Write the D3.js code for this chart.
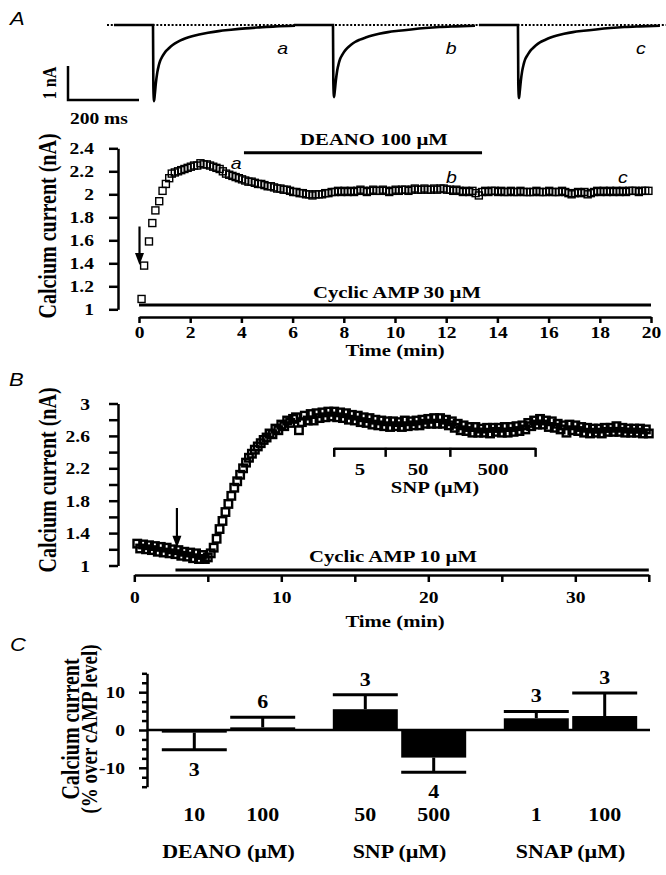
<!DOCTYPE html>
<html><head><meta charset="utf-8">
<script src="https://cdn.jsdelivr.net/npm/d3@7"></script>
<style>body{margin:0;background:#fff}svg{display:block}</style>
</head><body>
<script>
// ================= DATA =================
// Panel A top: current traces (time in ms after step, current in nA)
const traceTime = [-110,0,1,3,5,8,12,16,20,26,32,40,50,62,76,92,110,130,155,185,220,260,300,345,400];
const traceA = [0,0,-1.8,-2.24,-2.05,-1.72,-1.4,-1.2,-1.06,-0.93,-0.83,-0.73,-0.63,-0.54,-0.46,-0.39,-0.33,-0.28,-0.23,-0.18,-0.14,-0.1,-0.07,-0.04,-0.02];
const traceB = [0,0,-1.7,-2.12,-1.95,-1.64,-1.33,-1.14,-1.0,-0.88,-0.78,-0.68,-0.59,-0.5,-0.43,-0.37,-0.31,-0.26,-0.21,-0.17,-0.13,-0.09,-0.06,-0.04,-0.02];
const traceC = [0,0,-1.72,-2.15,-1.97,-1.66,-1.35,-1.16,-1.02,-0.9,-0.8,-0.7,-0.6,-0.51,-0.44,-0.37,-0.31,-0.26,-0.21,-0.17,-0.13,-0.09,-0.06,-0.04,-0.02];
const traceOnsets = [0, 507, 1028];        // ms on the trace time axis
const traceLetters = ["a","b","c"];
const traceLetterT = [365, 333, 346];      // ms after each onset

// Panel A time course (min, nA)
const timeAearly = [0.1,0.2,0.39,0.52,0.64,0.79,0.92,1.05,1.18,1.28];
const valAearly  = [1.09,1.38,1.59,1.75,1.86,1.94,2.03,2.09,2.14,2.18];
const startAdense = 1.4, stepAdense = 0.125;   // sampling clock
const valAdense = [
 2.19,2.2,2.21,2.22,2.23,2.24,2.25,2.25,
 2.27,2.26,2.26,2.25,2.24,2.23,2.22,2.2,
 2.18,2.17,2.16,2.15,2.14,2.13,2.12,2.11,
 2.11,2.1,2.09,2.09,2.08,2.07,2.07,2.06,
 2.05,2.05,2.04,2.04,2.03,2.02,2.02,2.01,
 2.01,2.0,2.0,1.99,2.0,2.0,2.0,2.01,
 2.01,2.02,2.02,2.03,2.02,2.03,2.02,2.03,
 2.02,2.03,2.04,2.03,2.02,2.03,2.04,2.03,
 2.03,2.04,2.03,2.02,2.03,2.04,2.03,2.04,
 2.04,2.03,2.04,2.05,2.04,2.04,2.05,2.04,
 2.04,2.05,2.04,2.05,2.05,2.04,2.04,2.03,
 2.04,2.03,2.02,2.03,2.02,2.03,2.01,1.99,
 2.02,2.03,2.02,2.03,2.03,2.02,2.03,2.02,
 2.02,2.03,2.02,2.02,2.03,2.02,2.02,2.02,
 2.02,2.03,2.02,2.02,2.02,2.03,2.02,2.02,
 2.02,2.03,2.02,2.01,2.0,2.01,2.02,2.01,
 2.02,2.0,2.01,2.02,2.03,2.02,2.03,2.02,
 2.03,2.02,2.03,2.02,2.03,2.02,2.03,2.03,
 2.03,2.02,2.03,2.03,2.03];
const yTicksA = [1,1.2,1.4,1.6,1.8,2,2.2,2.4];
const xTicksA = [0,2,4,6,8,10,12,14,16,18,20];
const deanoA = {start:4.1, end:13.4, level:2.362, label:"DEANO 100 \u00b5M"};
const campA = {start:0, end:20, level:1.037, label:"Cyclic AMP 30 \u00b5M"};
const arrowA = {t:0.02, from:1.72, to:1.385};
const letterPosA = [{t:3.8,v:2.22},{t:12.2,v:2.1},{t:18.9,v:2.1}];

// Panel B time course (min, nA)
const startB = 0.2, stepB = 0.2;   // sampling clock
const valB = [
 1.27,1.21,1.26,1.2,1.25,1.19,1.24,1.17,1.23,1.16,1.22,1.15,1.2,1.14,1.19,
 1.12,1.17,1.11,1.16,1.09,1.15,1.08,1.13,1.08,
 1.1,1.15,1.22,1.33,1.45,1.55,1.66,1.76,1.86,1.96,2.04,2.12,2.2,2.27,2.33,2.38,2.43,2.47,2.51,2.55,
 2.58,2.63,2.62,2.69,2.67,2.74,2.72,2.79,2.76,2.81,
 2.83,2.67,2.77,2.85,2.79,2.87,2.79,2.88,2.82,2.89,2.83,2.90,2.84,2.90,2.83,2.89,2.82,2.88,2.80,2.86,
 2.79,2.85,2.77,2.83,2.76,2.82,2.74,2.80,2.73,2.79,2.72,2.78,2.71,2.78,2.72,2.77,2.71,2.79,2.72,2.78,
 2.73,2.79,2.73,2.80,2.75,2.81,2.75,2.82,2.75,2.82,2.75,2.80,2.73,2.78,2.70,2.75,2.67,2.73,2.66,2.71,
 2.64,2.71,2.64,2.69,2.64,2.70,2.63,2.70,2.65,2.70,2.64,2.71,2.64,2.71,2.65,2.72,2.66,2.73,2.68,2.76,
 2.72,2.79,2.74,2.81,2.74,2.79,2.71,2.78,2.70,2.75,2.68,2.73,2.64,2.74,2.67,2.73,2.66,2.71,2.64,2.70,
 2.63,2.69,2.64,2.69,2.63,2.70,2.65,2.70,2.65,2.72,2.65,2.70,2.64,2.69,2.64,2.69,2.64,2.69,2.63,2.68,2.63];
const yTicksB = [1,1.2,1.4,1.6,1.8,2,2.2,2.4,2.6,2.8,3];
const yLabelsB = [1,1.4,1.8,2.2,2.6,3];
const xTicksB = [0,5,10,15,20,25,30,35];
const xLabelsB = [0,10,20,30];
const campB = {start:2.8, end:35, level:0.944, label:"Cyclic AMP 10 \u00b5M"};
const arrowB = {t:2.9, from:1.71, to:1.22};
const snpTimes = [13.6, 17.1, 21.5, 27.3];
const snpDoses = ["5","50","500"];
const snpLevel = 2.44;

// Panel C bars (% over cAMP level)
const groupsC = ["DEANO (\u00b5M)","SNP (\u00b5M)","SNAP (\u00b5M)"];
const groupOfC = [0,0,1,1,2,2];
const dosesC = ["10","100","50","500","1","100"];
const meanC = [-0.7,0.7,5.5,-7.3,3.1,3.7];
const semC  = [4.5,2.7,3.8,3.9,1.8,6.1];
const nC    = [3,6,3,4,3,3];
const yTicksC = [-15,-12.5,-10,-7.5,-5,-2.5,0,2.5,5,7.5,10,12.5,15];
const yLabelsC = [-10,0,10];

// ================= DRAWING =================
const SERIF = '"Liberation Serif","Times New Roman",serif';
const SANS = '"Liberation Sans",Arial,sans-serif';
const SX = 1.22;
const svg = d3.select("body").append("svg").attr("width",666).attr("height",875);

function txt(sel,x,y,s,o={}){
  return sel.append("text")
    .attr("transform",`translate(${x},${y}) scale(${o.sx??SX},1)`+(o.rot?" rotate(-90)":""))
    .attr("text-anchor",o.anchor||"middle")
    .attr("font-family",o.family||SERIF)
    .attr("font-weight",o.weight||"bold")
    .attr("font-style",o.italic?"italic":"normal")
    .attr("font-size",o.size||18)
    .attr("fill","#000").text(s);
}
function styleAxis(g,fs){
  g.select(".domain").attr("stroke","#000").attr("stroke-width",2.5);
  g.selectAll(".tick line").attr("stroke","#000").attr("stroke-width",2.5);
  g.selectAll(".tick text").attr("font-family",SERIF).attr("font-weight","bold")
    .attr("font-size",fs).attr("fill","#000");
}
function leftText(g,off){
  g.selectAll(".tick text").attr("x",null).attr("dy","0.35em")
    .attr("transform",`translate(${-off},0) scale(${SX},1)`);
}
function bottomText(g,base){
  g.selectAll(".tick text").attr("y",null).attr("dy",null)
    .attr("transform",`translate(0,${base}) scale(${SX},1)`);
}
function arrow(sel,x,y1,y2){
  sel.append("line").attr("x1",x).attr("x2",x).attr("y1",y1).attr("y2",y2-8)
    .attr("stroke","#000").attr("stroke-width",2.2);
  sel.append("path").attr("d",`M${x-4.5},${y2-12}L${x+4.5},${y2-12}L${x},${y2}Z`).attr("fill","#000");
}
function hline(sel,x1,x2,y,w){
  sel.append("line").attr("x1",x1).attr("x2",x2).attr("y1",y).attr("y2",y)
    .attr("stroke","#000").attr("stroke-width",w||3);
}

// ---- Panel labels
txt(svg,10,25,"A",{family:SANS,weight:"normal",italic:true,size:18,anchor:"start"});
txt(svg,9,386,"B",{family:SANS,weight:"normal",italic:true,size:18,anchor:"start"});
txt(svg,10,651,"C",{family:SANS,weight:"normal",italic:true,size:18,anchor:"start"});

// ---- Panel A traces
const xT = d3.scaleLinear().domain([0,200]).range([153,224]);
const yT = d3.scaleLinear().domain([0,-1]).range([25,59]);
svg.append("line").attr("x1",107).attr("x2",666).attr("y1",yT(0)).attr("y2",yT(0))
  .attr("stroke","#000").attr("stroke-width",2).attr("stroke-dasharray","2,1.8");
const traceLine = d3.line().x(d=>xT(d[0])).y(d=>yT(d[1])).curve(d3.curveMonotoneX);
[traceA,traceB,traceC].forEach((tr,k)=>{
  const pts = traceTime.map((t,i)=>[t+traceOnsets[k],tr[i]]);
  svg.append("path").attr("d",traceLine(pts)).attr("fill","none")
    .attr("stroke","#000").attr("stroke-width",2.6);
  txt(svg,xT(traceOnsets[k]+traceLetterT[k]),54,traceLetters[k],{family:SANS,weight:"normal",italic:true,size:16});
});
// scale bar: 1 nA, 200 ms
const sbx = 68, sby = 100;
svg.append("path").attr("d",`M${sbx},${sby-(yT(-1)-yT(0))}V${sby}H${sbx+(xT(200)-xT(0))}`)
  .attr("fill","none").attr("stroke","#000").attr("stroke-width",2.5);
txt(svg,56,83,"1 nA",{rot:true,size:16});
txt(svg,70,124,"200 ms",{anchor:"start",size:16});

// ---- Panel A time course
const xA = d3.scaleLinear().domain([0,20]).range([139,651]);
const yA = d3.scaleLinear().domain([1,2.4]).range([309.3,148.3]);
const gAy = svg.append("g").attr("transform","translate(118,0)")
  .call(d3.axisLeft(yA).tickValues(yTicksA).tickSize(9).tickSizeOuter(0).tickFormat(d=>String(d)));
styleAxis(gAy,16); leftText(gAy,24);
const gAx = svg.append("g").attr("transform","translate(0,317)")
  .call(d3.axisBottom(xA).tickValues(xTicksA).tickSize(6).tickSizeOuter(0));
styleAxis(gAx,16); bottomText(gAx,21);
txt(svg,56,226,"Calcium current (nA)",{rot:true,size:20});
txt(svg,395,356,"Time (min)",{size:17});
const ptsA = timeAearly.map((t,i)=>[t,valAearly[i]])
  .concat(valAdense.map((v,i)=>[startAdense+i*stepAdense,v]));
svg.append("g").selectAll("rect").data(ptsA).join("rect")
  .attr("x",d=>xA(d[0])-3.5).attr("y",d=>yA(d[1])-3.5).attr("width",7).attr("height",7)
  .attr("fill","none").attr("stroke","#000").attr("stroke-width",1.4);
hline(svg,xA(deanoA.start),xA(deanoA.end),yA(deanoA.level),3);
txt(svg,374,145,deanoA.label,{size:17});
hline(svg,xA(campA.start),xA(campA.end),yA(campA.level),3);
txt(svg,397,298,campA.label,{size:17});
arrow(svg,xA(arrowA.t),yA(arrowA.from),yA(arrowA.to));
letterPosA.forEach((p,i)=>txt(svg,xA(p.t),yA(p.v),traceLetters[i],{family:SANS,weight:"normal",italic:true,size:16}));

// ---- Panel B
const xB = d3.scaleLinear().domain([0,35]).range([134.3,648.8]);
const yB = d3.scaleLinear().domain([1,3]).range([565.5,403.5]);
const gBy = svg.append("g").attr("transform","translate(118,0)")
  .call(d3.axisLeft(yB).tickValues(yTicksB).tickSize(9).tickSizeOuter(0)
    .tickFormat(d=>yLabelsB.some(l=>Math.abs(l-d)<1e-6)?String(d):""));
styleAxis(gBy,16); leftText(gBy,28);
const gBx = svg.append("g").attr("transform","translate(0,575)")
  .call(d3.axisBottom(xB).tickValues(xTicksB).tickSize(7).tickSizeOuter(0)
    .tickFormat(d=>xLabelsB.includes(d)?String(d):""));
styleAxis(gBx,16); bottomText(gBx,28);
txt(svg,56,480,"Calcium current (nA)",{rot:true,size:20});
txt(svg,395,627,"Time (min)",{size:17});
const ptsB = valB.map((v,i)=>[startB+i*stepB,v]);
svg.append("g").selectAll("rect").data(ptsB).join("rect")
  .attr("x",d=>xB(d[0])-3.75).attr("y",d=>yB(d[1])-3.75).attr("width",7.5).attr("height",7.5)
  .attr("fill","none").attr("stroke","#000").attr("stroke-width",2.4);
hline(svg,xB(campB.start),xB(campB.end),yB(campB.level),3);
txt(svg,393,562,campB.label,{size:17});
arrow(svg,xB(arrowB.t),yB(arrowB.from),yB(arrowB.to));
// SNP bracket
const ySnp = yB(snpLevel);
hline(svg,xB(snpTimes[0]),xB(snpTimes[3]),ySnp,2.5);
snpTimes.forEach(t=>svg.append("line").attr("x1",xB(t)).attr("x2",xB(t)).attr("y1",ySnp-1).attr("y2",ySnp+8)
  .attr("stroke","#000").attr("stroke-width",2.5));
snpDoses.forEach((d,i)=>txt(svg,(xB(snpTimes[i])+xB(snpTimes[i+1]))/2,475,d,{size:17}));
txt(svg,435,493,"SNP (\u00b5M)",{size:17});

// ---- Panel C
const yC = d3.scaleLinear().domain([-15,15]).range([786.7,673.3]);
const xG = d3.scaleBand().domain(groupsC).range([143,656]).paddingInner(0.22).paddingOuter(0.11);
const xI = d3.scaleBand().domain([0,1]).range([0,xG.bandwidth()]).paddingInner(0.05);
const gCy = svg.append("g").attr("transform","translate(147,0)")
  .call(d3.axisLeft(yC).tickValues(yTicksC).tickSize(7).tickSizeOuter(0)
    .tickFormat(d=>yLabelsC.includes(d)?String(d):""));
styleAxis(gCy,16); leftText(gCy,22);
gCy.selectAll(".tick line").attr("x2",d=>yLabelsC.includes(d)?-8:-5);
const barX = i=>xG(groupsC[groupOfC[i]])+xI(i%2);
const bw = xI.bandwidth();
const gC = svg.append("g");
meanC.forEach((m,i)=>{
  const x0 = barX(i), xc = x0+bw/2;
  const tip = m>=0 ? m+semC[i] : m-semC[i];
  gC.append("rect").attr("x",x0).attr("width",bw)
    .attr("y",yC(Math.max(0,m))).attr("height",Math.abs(yC(m)-yC(0))).attr("fill","#000");
  gC.append("line").attr("x1",xc).attr("x2",xc).attr("y1",yC(m)).attr("y2",yC(tip))
    .attr("stroke","#000").attr("stroke-width",3);
  hline(gC,x0,x0+bw,yC(tip),3);
  txt(gC,xc,m>=0?yC(tip)-9:yC(tip)+26,String(nC[i]),{size:18});
  txt(gC,xc,821,dosesC[i],{size:18});
});
hline(svg,147,650,yC(0),2.5);
groupsC.forEach(g=>txt(svg,xG(g)+xG.bandwidth()/2,858,g,{size:18}));
txt(svg,79,729,"Calcium current",{rot:true,size:20});
txt(svg,97,729,"(% over cAMP level)",{rot:true,size:19});
</script>
</body></html>
